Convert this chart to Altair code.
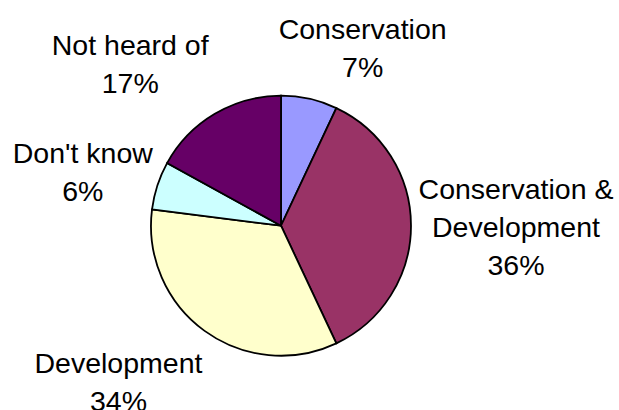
import math
import altair as alt
import pandas as pd

# ---- data ----
categories = ["Conservation", "Conservation & Development", "Development", "Don't know", "Not heard of"]
label_names = ["Conservation", "Conservation &\nDevelopment", "Development", "Don't know", "Not heard of"]
values = [7, 36, 34, 6, 17]
colors = ["#9999FF", "#993366", "#FFFFCC", "#CCFFFF", "#660066"]

# ---- layout (not data) ----
CX, CY = 281, 225.7
R_PIE = 130
R_LABEL = 200
# label nudges (dx, dy) relative to the radial anchor point
nudges = [(38, 8), (35, -27), (-45, -15), (-8, -1), (-49, 1)]

df = pd.DataFrame({
    "category": categories,
    "value": values,
    "order": list(range(len(categories))),
    "label": [f"{n}\n{v}%" for n, v in zip(label_names, values)],
})

theta_scale = alt.Scale(domain=[0, 100], range=[0, 2 * math.pi])

arc = alt.Chart(df).mark_arc(
    outerRadius=R_PIE, stroke="black", strokeWidth=1.8
).encode(
    theta=alt.Theta("value:Q", stack=True, scale=theta_scale),
    order=alt.Order("order:Q"),
    color=alt.Color("category:N", scale=alt.Scale(domain=categories, range=colors), legend=None),
    x=alt.value(CX),
    y=alt.value(CY),
)

text_base = alt.Chart(df).transform_window(
    cum="sum(value)", sort=[alt.SortField("order")], frame=[None, 0]
).transform_calculate(mid="datum.cum - datum.value / 2")

layers = [arc]
for i, (dx, dy) in enumerate(nudges):
    layers.append(
        text_base.transform_filter(alt.datum.order == i).mark_text(
            radius=R_LABEL, dx=dx, dy=dy, fontSize=28.5, font="Liberation Sans",
            lineBreak="\n", lineHeight=38, align="center", baseline="alphabetic",
            color="black",
        ).encode(
            theta=alt.Theta("mid:Q", scale=theta_scale),
            text="label:N",
            x=alt.value(CX),
            y=alt.value(CY),
        )
    )

chart = alt.layer(*layers).properties(
    width=619, height=410, padding=0, autosize=alt.AutoSizeParams(type="none"),
    background="white",
).configure_view(stroke=None)

chart.save("out.html", embed_options={"renderer": "svg", "actions": False})
